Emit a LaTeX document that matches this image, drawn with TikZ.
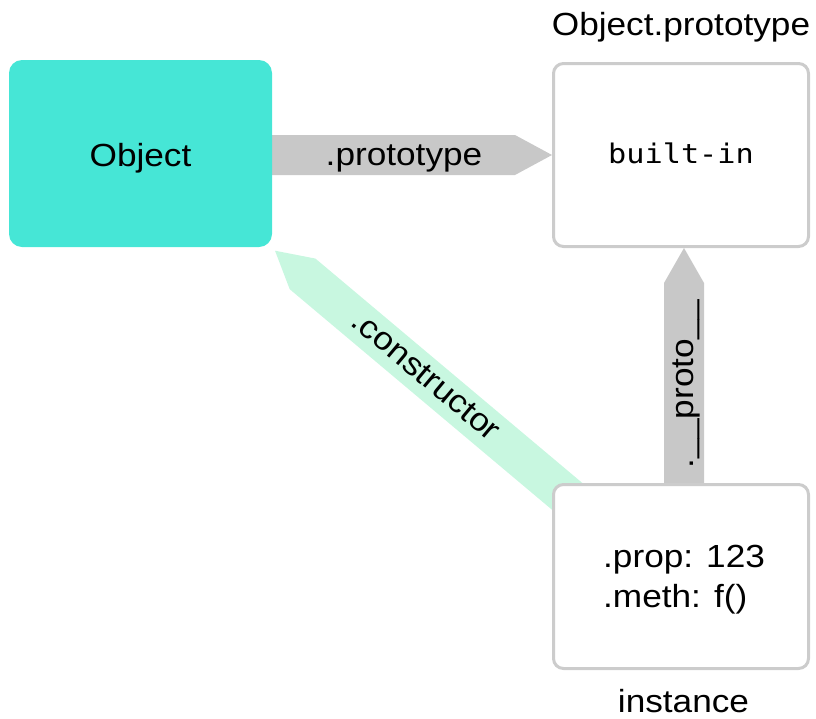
\documentclass[tikz,border=0pt]{standalone}
\usepackage{fontspec}
\setmainfont{Liberation Sans}[FakeStretch=1.1]
\newfontfamily\monofont{DejaVu Sans Mono}[FakeStretch=1.12]
\usetikzlibrary{calc}
\definecolor{tealfill}{RGB}{70,230,214}
\definecolor{boxgray}{RGB}{204,204,204}
\definecolor{arrgray}{RGB}{200,200,200}
\definecolor{mintfill}{RGB}{200,247,224}
\pgfdeclarelayer{bg}
\pgfsetlayers{bg,main}
\begin{document}
\begin{tikzpicture}[x=1pt,y=-1pt,
  lbl/.style={font=\fontsize{32}{40}\selectfont, inner sep=0pt},
  monolbl/.style={font=\monofont\fontsize{27}{32}\selectfont, inner sep=0pt},
  objbox/.style={fill=tealfill, draw=none, rounded corners=13pt, minimum width=263pt, minimum height=187pt, inner sep=0pt, outer sep=0pt},
  whitebox/.style={fill=white, draw=boxgray, line width=3pt, rounded corners=10pt, minimum width=255pt, minimum height=183pt, inner sep=0pt},
  grayarrow/.style={fill=arrgray},
  mintarrow/.style={fill=mintfill}]
\useasboundingbox (0,0) rectangle (816,718);
% boxes
\node[objbox] (obj) at (140.5,153.5) {};
\node[whitebox] (proto) at (681,155) {};
\node[whitebox, minimum height=184pt] (inst) at (681,576.5) {};
% connectors (behind boxes)
\begin{pgfonlayer}{bg}
  % .prototype
  \coordinate (pt) at (proto.west);
  \coordinate (ps) at (obj.center |- pt);
  \fill[grayarrow] (pt) -- ($(pt)+(-37,-20)$) -- ($(ps)+(0,-20)$) -- ($(ps)+(0,20)$) -- ($(pt)+(-37,20)$) -- cycle;
  % __proto__
  \coordinate (qt) at ($(proto.south)+(3,0)$);
  \coordinate (qs) at ($(inst.center)+(3,0)$);
  \fill[grayarrow] (qt) -- ($(qt)+(-20,35)$) -- ($(qs)+(-20,0)$) -- ($(qs)+(20,0)$) -- ($(qt)+(20,35)$) -- cycle;
  % .constructor
  \coordinate (ct) at ($(obj.south east)+(3,3.7)$);
  \coordinate (cs) at ($(inst.north west)+(29,25)$);
  \coordinate (cm) at ($(ct)!36pt!(cs)$);
  \fill[mintarrow] (ct) -- ($(cm)!20pt!90:(cs)$) -- ($(cs)!20pt!-90:(ct)$) -- ($(cs)!20pt!90:(ct)$) -- ($(cm)!20pt!-90:(cs)$) -- cycle;
  \coordinate (cl) at ($(ct)!196pt!(cs)$);
  \coordinate (clb) at ($(cl)!8.5pt!-90:(cs)$);
\end{pgfonlayer}
% texts
\node[lbl, anchor=base] (objtext) at ($(obj.center)+(0,13)$) {Object};
\node[monolbl, anchor=base] (builtin) at ($(proto.center)+(0,8)$) {built-in};
\node[lbl, anchor=base] (protolabel) at ($(proto.north)+(0,-27)$) {Object.prototype};
\node[lbl, anchor=base] (instlabel) at ($(inst.south)+(2.5,42)$) {instance};
\node[lbl, anchor=base west] (prop) at ($(inst.center)+(-78,-9.5)$) {.prop: 123};
\node[lbl, anchor=base west] (meth) at ($(inst.center)+(-78,30.5)$) {.meth: f()};
% connector labels
\node[lbl, anchor=base] (lprototype) at ($(pt)+(-148,10)$) {.prototype};
\node[lbl, anchor=base, rotate=90] (lproto) at ($(qt)+(9,136)$) {.\_\_proto\_\_};
\node[lbl, anchor=base, rotate=-40] (lcons) at (clb) {.constructor};
\end{tikzpicture}
\end{document}
